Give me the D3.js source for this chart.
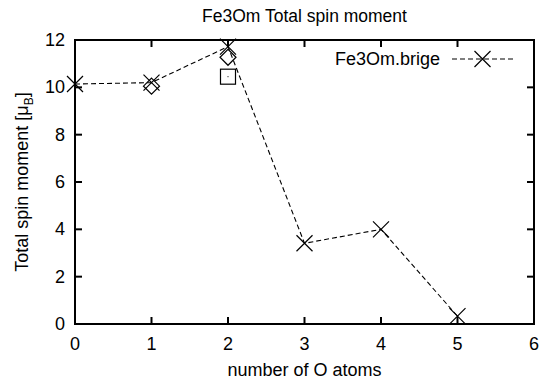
<!DOCTYPE html>
<html>
<head>
<meta charset="utf-8">
<script src="https://cdn.jsdelivr.net/npm/d3@7"></script>
<style>
  body { margin: 0; background: #fff; }
  text { font-family: "Liberation Sans", Arial, sans-serif; fill: #000; }
</style>
</head>
<body>
<script>
// data
const nO = [0, 1, 2, 3, 4, 5];
const brige = [10.14, 10.2, 11.72, 3.41, 4.0, 0.33];
const diamondPts = [[1, 10.05], [2, 11.27]];
const squarePts = [[2, 10.45]];
const xTicks = [0, 1, 2, 3, 4, 5, 6];
const yTicks = [0, 2, 4, 6, 8, 10, 12];

function main() {
  const width = 551;
  const height = 381;
  const m = { left: 75, right: 17, top: 40, bottom: 57 };
  const fs = 18;

  const svg = d3.select('body').append('svg')
    .attr('width', width)
    .attr('height', height);

  const x = d3.scaleLinear().domain([0, 6]).range([m.left, width - m.right]);
  const y = d3.scaleLinear().domain([0, 12]).range([height - m.bottom, m.top]);

  // ticks on all four sides, pointing inward
  const tickLen = 7;
  const g = svg.append('g').attr('stroke', '#000').attr('stroke-width', 2);
  xTicks.slice(1, -1).forEach(t => {
    g.append('line').attr('x1', x(t)).attr('x2', x(t)).attr('y1', y(0)).attr('y2', y(0) - tickLen);
    g.append('line').attr('x1', x(t)).attr('x2', x(t)).attr('y1', y(12)).attr('y2', y(12) + tickLen);
  });
  yTicks.slice(1, -1).forEach(t => {
    g.append('line').attr('y1', y(t)).attr('y2', y(t)).attr('x1', x(0)).attr('x2', x(0) + tickLen);
    g.append('line').attr('y1', y(t)).attr('y2', y(t)).attr('x1', x(6)).attr('x2', x(6) - tickLen);
  });

  svg.append('rect')
    .attr('x', x(0)).attr('y', y(12))
    .attr('width', x(6) - x(0)).attr('height', y(0) - y(12))
    .attr('fill', 'none').attr('stroke', '#000').attr('stroke-width', 2);

  svg.append('g').selectAll('text')
    .data(xTicks).enter().append('text')
    .attr('x', d => x(d)).attr('y', y(0) + 26)
    .attr('text-anchor', 'middle').attr('font-size', fs)
    .text(d => d);

  svg.append('g').selectAll('text')
    .data(yTicks).enter().append('text')
    .attr('x', x(0) - 10).attr('y', d => y(d) + 6)
    .attr('text-anchor', 'end').attr('font-size', fs)
    .text(d => d);

  svg.append('text')
    .attr('x', (x(0) + x(6)) / 2).attr('y', 22)
    .attr('text-anchor', 'middle').attr('font-size', 17.5)
    .text('Fe3Om Total spin moment');

  svg.append('text')
    .attr('x', (x(0) + x(6)) / 2).attr('y', 376)
    .attr('text-anchor', 'middle').attr('font-size', fs)
    .text('number of O atoms');

  const yl = svg.append('text')
    .attr('transform', `translate(28,${(y(0) + y(12)) / 2}) rotate(-90)`)
    .attr('text-anchor', 'middle').attr('font-size', fs);
  yl.append('tspan').text('Total spin moment [\u03bc');
  yl.append('tspan').attr('font-size', 12).attr('dy', 5).text('B');
  yl.append('tspan').attr('dy', -5).text(']');

  const cross = (sel, cx, cy, r) => {
    sel.append('path')
      .attr('d', `M${cx - r},${cy - r}L${cx + r},${cy + r}M${cx - r},${cy + r}L${cx + r},${cy - r}`)
      .attr('stroke', '#000').attr('stroke-width', 1.2).attr('fill', 'none');
  };

  // series line
  const line = d3.line().x((d, i) => x(nO[i])).y(d => y(d));
  svg.append('path')
    .attr('d', line(brige))
    .attr('fill', 'none').attr('stroke', '#000')
    .attr('stroke-width', 1.1).attr('stroke-dasharray', '5,3');

  const marks = svg.append('g');
  brige.forEach((v, i) => cross(marks, x(nO[i]), y(v), 8));

  // diamonds
  svg.append('g').selectAll('path')
    .data(diamondPts).enter().append('path')
    .attr('d', d => {
      const cx = x(d[0]), cy = y(d[1]), r = 8;
      return `M${cx},${cy - r}L${cx + r},${cy}L${cx},${cy + r}L${cx - r},${cy}Z`;
    })
    .attr('fill', 'none').attr('stroke', '#000').attr('stroke-width', 1.2);

  // squares
  const sq = svg.append('g');
  squarePts.forEach(d => {
    sq.append('rect')
      .attr('x', x(d[0]) - 7.5).attr('y', y(d[1]) - 7.5)
      .attr('width', 15).attr('height', 15)
      .attr('fill', 'none').attr('stroke', '#000').attr('stroke-width', 1.2);
    sq.append('rect')
      .attr('x', x(d[0]) - 0.5).attr('y', y(d[1]) - 0.5)
      .attr('width', 1).attr('height', 1).attr('fill', '#000');
  });

  // legend
  const lx = 452, lx2 = 513, ly = 59;
  svg.append('text')
    .attr('x', 440).attr('y', ly + 6)
    .attr('text-anchor', 'end').attr('font-size', fs)
    .text('Fe3Om.brige');
  svg.append('line')
    .attr('x1', lx).attr('x2', lx2).attr('y1', ly).attr('y2', ly)
    .attr('stroke', '#000').attr('stroke-width', 1.1).attr('stroke-dasharray', '5,3');
  cross(svg, (lx + lx2) / 2, ly, 8);
}

main();
</script>
</body>
</html>
